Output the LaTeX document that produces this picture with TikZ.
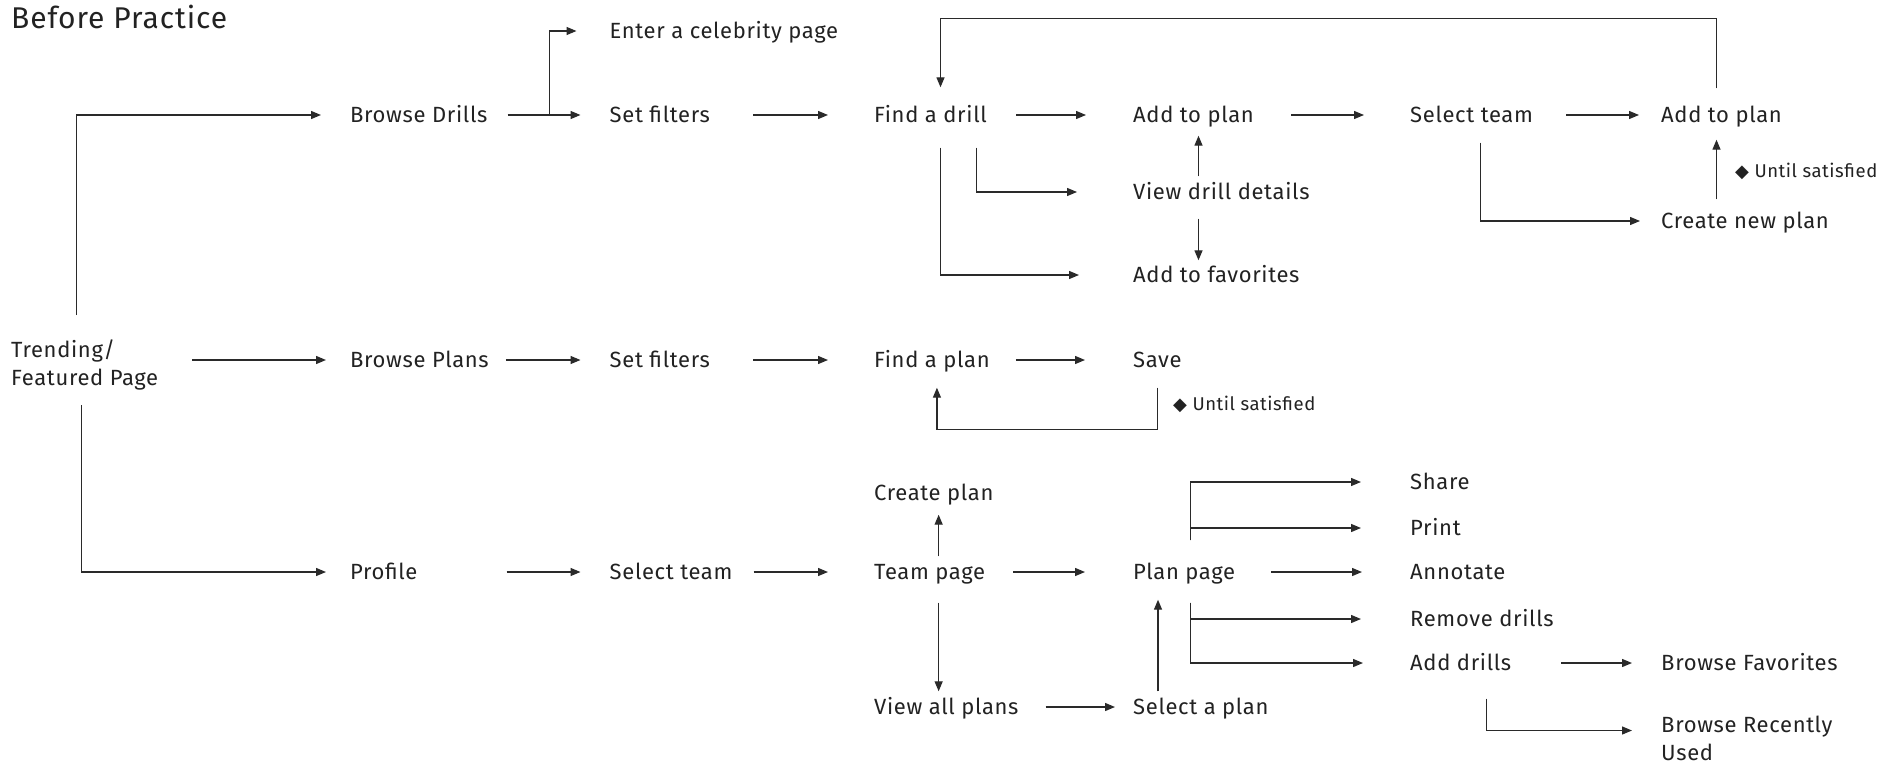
\documentclass[tikz,border=0pt]{standalone}
\usepackage{fontspec}
\setmainfont{Fira Sans}[LetterSpace=3]
\newfontfamily\dingfont{DejaVu Sans}
\usetikzlibrary{arrows.meta,calc}

\definecolor{ink}{HTML}{222222}
\definecolor{wire}{HTML}{2a2a2a}

\tikzset{
  title/.style={anchor=base west, inner sep=0pt, text=ink, font=\fontsize{30}{36}\selectfont},
  item/.style={anchor=west, inner sep=0pt, text height=15pt, text depth=0pt, text=ink, font=\fontsize{22}{28}\selectfont},
  item2/.style={anchor=west, inner sep=0pt, align=left, text=ink, font=\fontsize{22}{28}\selectfont},
  note/.style={anchor=west, inner sep=0pt, text=ink, font=\fontsize{18.5}{22}\selectfont},
  flow/.style={draw=wire, line width=1.3pt, -{Triangle[length=10pt,width=8pt]}},
  trim/.style 2 args={shorten <=#1pt, shorten >=#2pt},
}
\newcommand{\untilmark}{{\dingfont\fontsize{18}{18}\selectfont ◆}}

\begin{document}
\begin{tikzpicture}[x=1pt, y=-1pt]
  \useasboundingbox[fill=white] (0,0) rectangle (1886,765);

  \node[title] (title) at (11,29) {Before Practice};

  % pages
  \node[item2] (tfp) at (11,365) {Trending/\\Featured Page};
  \node[item] (bd)   at (350,115)  {Browse Drills};
  \node[item] (bp)   at (350,360)  {Browse Plans};
  \node[item] (pr)   at (350,572)  {Profile};
  \node[item] (ecp)  at (609.5,31) {Enter a celebrity page};
  \node[item] (sf1)  at (609.5,115) {Set filters};
  \node[item] (sf2)  at (609.5,360) {Set filters};
  \node[item] (st2)  at (609.5,572) {Select team};
  \node[item] (fd)   at (874,115)  {Find a drill};
  \node[item] (fp)   at (874,360)  {Find a plan};
  \node[item] (cp)   at (874,493)  {Create plan};
  \node[item] (tp)   at (874,572)  {Team page};
  \node[item] (vap)  at (874,707)  {View all plans};
  \node[item] (atp1) at (1133,115) {Add to plan};
  \node[item] (vdd)  at (1133,192) {View drill details};
  \node[item] (atf)  at (1133,275) {Add to favorites};
  \node[item] (sv)   at (1133,360) {Save};
  \node[item] (pp)   at (1133,572) {Plan page};
  \node[item] (sap)  at (1133,707) {Select a plan};
  \node[item] (st1)  at (1410,115) {Select team};
  \node[item] (sh)   at (1410,482) {Share};
  \node[item] (pt)   at (1410,528) {Print};
  \node[item] (an)   at (1410,572) {Annotate};
  \node[item] (rd)   at (1410,619) {Remove drills};
  \node[item] (ad)   at (1410,663) {Add drills};
  \node[item] (atp2) at (1661,115) {Add to plan};
  \node[item] (cnp)  at (1661,221) {Create new plan};
  \node[item] (bf)   at (1661,663) {Browse Favorites};
  \node[item2] (bru) at (1661,738.5) {Browse Recently\\Used};
  \node[note] (us1)  at (1735,171) {\untilmark\ Until satisfied};
  \node[note] (us2)  at (1173,404) {\untilmark\ Until satisfied};

  % drills
  \draw[flow, trim={34}{24}] (tfp.east |- bp.west) -- (bp.west);
  \draw[flow, shorten >=29pt] ($(tfp.center)+(-8,-50)$) |- (bd.west);
  \draw[flow, trim={20}{29}] (bd.east) -- (sf1.west);
  \draw[flow, shorten >=33pt] ($(bd.east)+(62,0)$) |- (ecp.west);
  \draw[flow, trim={43}{46}] (sf1.east) -- (fd.west);
  \draw[flow, trim={29}{47}] (fd.east) -- (atp1.west);
  \draw[flow, trim={37}{46}] (atp1.east) -- (st1.west);
  \draw[flow, trim={33}{22}] (st1.east) -- (atp2.west);
  \draw[flow] ($(atp2.north)+(-5,-19)$) -- ++(0,-70) -| ($(fd.north)+(10,-20)$);
  \draw[flow, shorten >=54pt] ($(fd.south)+(10,25)$) |- (atf.west);
  \draw[flow, shorten >=56pt] ($(fd.south)+(46,25)$) |- (vdd.west);
  \coordinate (atpx) at ($(atp1.south)+(5,0)$);
  \draw[flow, trim={8}{13}] (atpx |- vdd.north) -- (atpx);
  \draw[flow, trim={19}{7}] (atpx |- vdd.south) -- (atpx |- atf.north);
  \draw[flow, shorten >=21pt] ($(st1.south)+(9,20)$) |- (cnp.west);
  \coordinate (atpy) at ($(atp2.south)+(-5,0)$);
  \draw[flow, trim={14}{17}] (atpy |- cnp.north) -- (atpy);

  % plans
  \draw[flow, trim={17}{29}] (bp.east) -- (sf2.west);
  \draw[flow, trim={43}{46}] (sf2.east) -- (fp.west);
  \draw[flow, trim={26}{48}] (fp.east) -- (sv.west);
  \draw[flow] ($(sv.south)+(0,20)$) -- ++(0,42) -| ($(fp.south)+(5,20)$);

  % profile
  \draw[flow, shorten >=24pt] ($(tfp.center)+(-3,40)$) |- (pr.west);
  \draw[flow, trim={89}{29}] (pr.east) -- (st2.west);
  \draw[flow, trim={21}{46}] (st2.east) -- (tp.west);
  \draw[flow, trim={28}{48}] (tp.east) -- (pp.west);
  \coordinate (tpx) at ($(tp.north)+(9,0)$);
  \draw[flow, trim={8}{14}] (tpx) -- (tpx |- cp.south);
  \draw[flow, trim={23}{8}] (tpx |- tp.south) -- (tpx |- vap.north);
  \draw[flow, trim={27}{18}] (vap.east) -- (sap.west);
  \coordinate (ppx) at ($(pp.west)+(25,0)$);
  \draw[flow, trim={8}{20}] (ppx |- sap.north) -- (ppx |- pp.south);
  \draw[flow, shorten >=49pt] ($(pp.north)+(6,-24)$) |- (sh.west);
  \draw[flow, shorten >=49pt] ($(pp.north)+(6,-24)$) |- (pt.west);
  \draw[flow, trim={36}{48}] (pp.east) -- (an.west);
  \draw[flow, shorten >=49pt] ($(pp.south)+(6,23)$) |- (rd.west);
  \draw[flow, shorten >=47pt] ($(pp.south)+(6,23)$) |- (ad.west);
  \draw[flow, trim={50}{29}] (ad.east) -- (bf.west);
  \draw[flow, shorten >=29pt] ($(ad.south)+(26,28)$) |- ($(bru.west)+(0,-8)$);
\end{tikzpicture}
\end{document}
